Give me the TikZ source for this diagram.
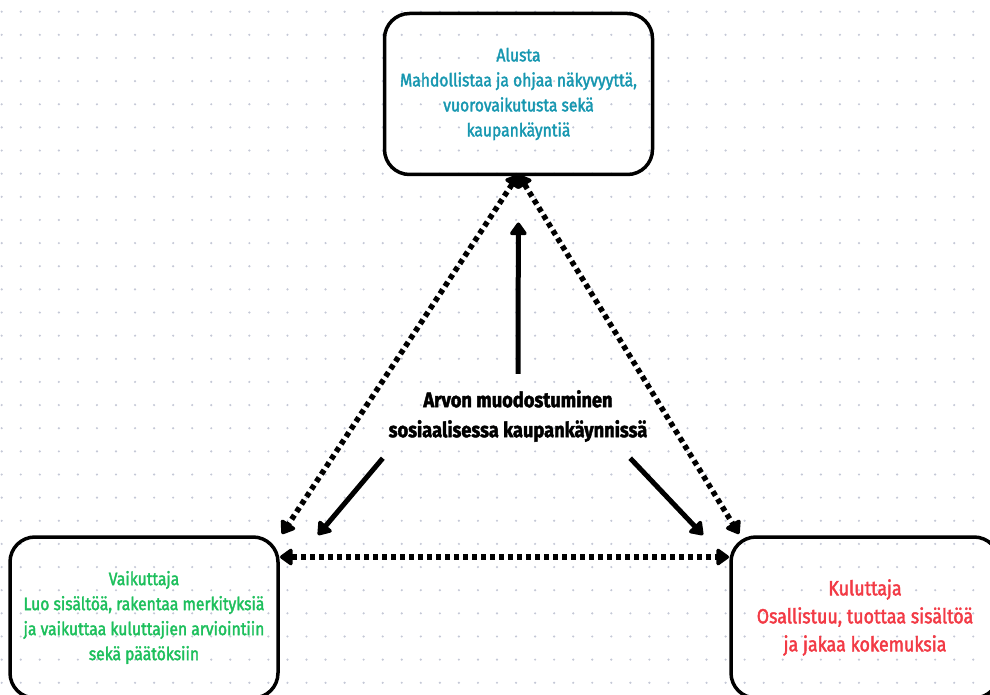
\documentclass[tikz,border=0pt]{standalone}
\usepackage{fontspec}
\setmainfont[FakeStretch=0.87,FakeBold=2]{Fira Sans}
\usetikzlibrary{arrows.meta}
\definecolor{alustacol}{HTML}{1797B0}
\definecolor{vaikcol}{HTML}{1DBF5C}
\definecolor{kulcol}{HTML}{F23A45}
\definecolor{dotcol}{HTML}{C4C8D6}
\begin{document}
\begin{tikzpicture}[x=1pt,y=-1pt,
				box/.style={draw,rounded corners=25pt,line width=3.5pt,minimum width=268pt,
					minimum height=161pt,align=center,outer sep=0pt},
				boxtext/.style={font=\fontsize{18}{25}\selectfont},
				dotline/.style={line width=5.5pt,dash pattern=on 5pt off 4pt,
					{Triangle[length=14pt,width=19pt,round]}-{Triangle[length=14pt,width=19pt,round]}},
				solidline/.style={line width=5pt,-{Triangle[length=14pt,width=19pt,round]}}]
\useasboundingbox (0,0) rectangle (990,695);
% grid of dots
\foreach \i in {0,...,51}
	\foreach \j in {0,...,29}
		\fill[dotcol] (1.7+19.05*\i,11.7+23.14*\j) circle (1.2pt);
% boxes
\node[box,boxtext,text=alustacol] (alusta) at (518.5,94) {Alusta\\Mahdollistaa ja ohjaa näkyvyyttä,\\vuorovaikutusta sekä\\kaupankäyntiä};
\node[box,boxtext,text=vaikcol] (vaikuttaja) at (144,617.5) {Vaikuttaja\\Luo sisältöä, rakentaa merkityksiä\\ja vaikuttaa kuluttajien arviointiin\\sekä päätöksiin};
\node[box,text=kulcol,font=\fontsize{20.5}{28}\selectfont] (kuluttaja) at (865,617.5) {Kuluttaja\\Osallistuu, tuottaa sisältöä\\ja jakaa kokemuksia};
\node[align=center,inner sep=0pt,minimum width=270pt,minimum height=84pt,
	font=\bfseries\fontsize{21}{30}\selectfont] (arvo) at (518,416) {Arvon muodostuminen\\sosiaalisessa kaupankäynnissä};
% connectors
\coordinate (vTip) at (318,535);
\coordinate (kTip) at (703,535);
\draw[dotline] (alusta.south) -- ([shift={(4pt,3pt)}]vaikuttaja.north east);
\draw[dotline] (alusta.south) -- ([shift={(8pt,3pt)}]kuluttaja.north west);
\draw[dotline] ([shift={(2pt,-20pt)}]vaikuttaja.north east) -- ([shift={(-2pt,-20pt)}]kuluttaja.north west);
\draw[solidline,shorten >=48pt] (arvo.north) -- (alusta.south);
\draw[solidline] (arvo.south west) -- (vTip);
\draw[solidline] ([xshift=-23pt]arvo.south east) -- (kTip);
\end{tikzpicture}
\end{document}
